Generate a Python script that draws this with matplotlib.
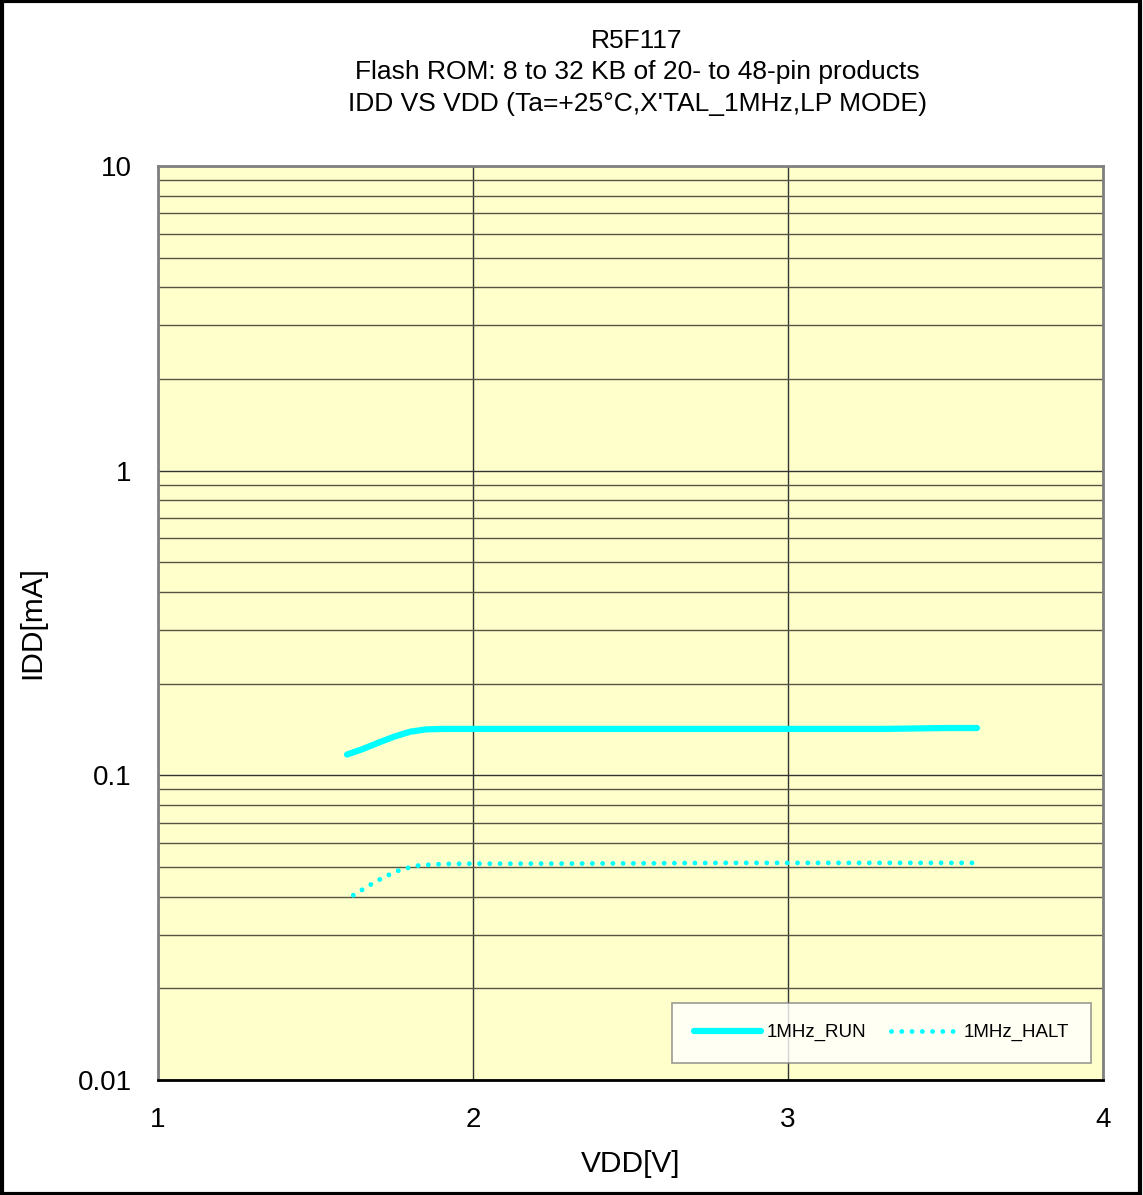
import matplotlib.pyplot as plt
from matplotlib.patches import Rectangle
from matplotlib.ticker import FixedLocator, NullFormatter

# data
vdd_run = [1.6, 1.65, 1.7, 1.75, 1.8, 1.85, 1.9, 2.0, 2.2, 2.5, 2.8, 3.0, 3.3, 3.5, 3.6]
idd_run = [0.117, 0.122, 0.128, 0.134, 0.139, 0.1415, 0.142, 0.142, 0.142, 0.142, 0.142, 0.142, 0.142, 0.143, 0.143]

vdd_halt = [1.62, 1.67, 1.72, 1.77, 1.82, 1.87, 1.92, 2.0, 2.2, 2.5, 2.8, 3.0, 3.3, 3.6]
idd_halt = [0.0404, 0.0435, 0.0465, 0.049, 0.0505, 0.051, 0.0512, 0.0513, 0.0513, 0.0514, 0.0516, 0.0516, 0.0516, 0.0516]

x_ticks = [1, 2, 3, 4]
y_ticks = [0.01, 0.1, 1, 10]
y_tick_labels = ["0.01", "0.1", "1", "10"]

title_lines = [
    "R5F117",
    "Flash ROM: 8 to 32 KB of 20- to 48-pin products",
    "IDD VS VDD (Ta=+25\u00b0C,X'TAL_1MHz,LP MODE)",
]

plt.rcParams["font.family"] = ["Liberation Sans", "DejaVu Sans"]

fig = plt.figure(figsize=(11.43, 11.95), dpi=100)
ax = fig.add_axes([158 / 1143, 1 - 1080 / 1195, (1103 - 158) / 1143, (1080 - 166) / 1195])
ax.set_facecolor("#ffffcc")

ax.set_yscale("log")
ax.set_xlim(1, 4)
ax.set_ylim(0.01, 10)

ax.xaxis.set_major_locator(FixedLocator(x_ticks))
ax.set_xticklabels([str(t) for t in x_ticks])
ax.yaxis.set_major_locator(FixedLocator(y_ticks))
ax.set_yticklabels(y_tick_labels)
minor = [m * 10.0 ** e for e in range(-2, 1) for m in range(2, 10)]
ax.yaxis.set_minor_locator(FixedLocator(minor))
ax.yaxis.set_minor_formatter(NullFormatter())

ax.grid(True, which="major", color="#333333", linewidth=1)
ax.grid(True, which="minor", axis="y", color="#555544", linewidth=1)
ax.tick_params(which="both", length=0, labelsize=20, pad=19)
ax.tick_params(axis="x", pad=19.5)

for side in ["top", "left", "right"]:
    ax.spines[side].set_color("#808080")
    ax.spines[side].set_linewidth(2)
ax.spines["bottom"].set_color("black")
ax.spines["bottom"].set_linewidth(2)

ax.plot(vdd_run, idd_run, color="#00ffff", linewidth=4.5, solid_capstyle="round",
        label="1MHz_RUN")
ax.plot(vdd_halt, idd_halt, color="#00ffff", linewidth=3.5, linestyle=(0, (0.01, 2.1)),
        dash_capstyle="round", label="1MHz_HALT")

leg = ax.legend(loc="lower right", bbox_to_anchor=(0.987, 0.0186), ncol=2, fontsize=13.5,
                frameon=True, fancybox=False, borderpad=1.15, borderaxespad=0,
                handlelength=3.6, columnspacing=1.3, handletextpad=0.3)
leg.get_frame().set_edgecolor("#808080")
leg.get_frame().set_linewidth(1.2)

ax.set_xlabel("VDD[V]", fontsize=21.5)
ax.xaxis.set_label_coords(0.5, -(1164 - 1080) / 914)
ax.set_ylabel("IDD[mA]", fontsize=21.5)
ax.yaxis.set_label_coords(-(158 - 32) / 945, 0.5)
ax.yaxis.label.set_va("center")
ax.xaxis.label.set_va("center")

for i, line in enumerate(title_lines):
    fig.text(637 / 1143, 1 - (41 + 31.5 * i) / 1195, line, ha="center", va="center",
             fontsize=19)

fig.patches.append(Rectangle((0.002, 0.001), 0.995, 0.998, transform=fig.transFigure,
                             fill=False, edgecolor="black", linewidth=3))

fig.savefig("out.png", dpi=100)
